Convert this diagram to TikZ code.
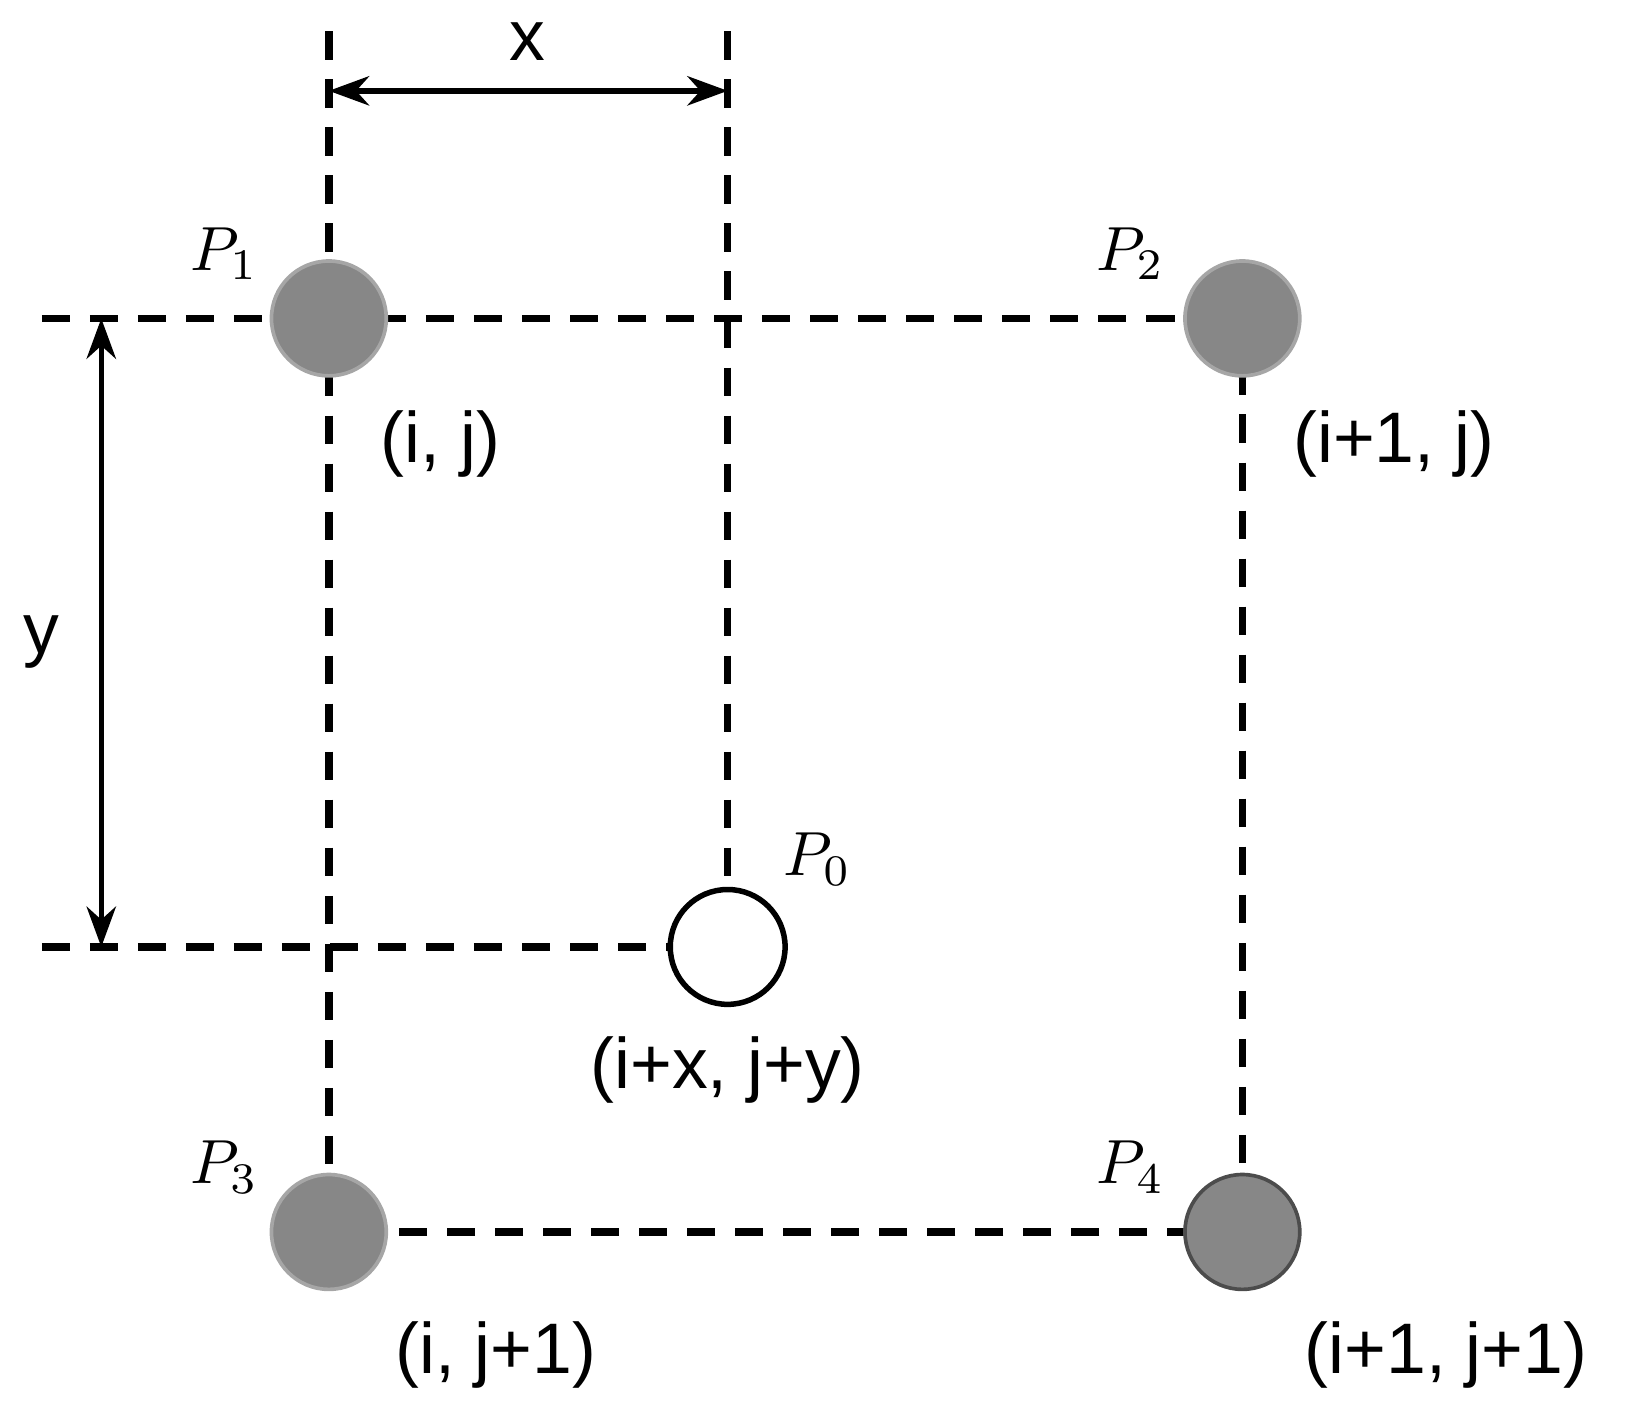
\documentclass[tikz,border=0pt]{standalone}
\usepackage{fontspec}
\setsansfont{Liberation Sans}
\usetikzlibrary{arrows.meta}
\begin{document}
\begin{tikzpicture}[x=0.02cm,y=-0.02cm,
 dashline/.style={line width=7*0.02cm, dash pattern=on 27*0.02cm off 19*0.02cm},
 fillpt/.style={circle, minimum size=110*0.02cm, inner sep=0, fill=black!47, draw=black!35, line width=2},
 openpt/.style={circle, minimum size=110*0.02cm, inner sep=0, fill=white, draw=black, line width=3},
 lab/.style={font=\sffamily\fontsize{39}{44}\selectfont, inner sep=0},
 plab/.style={inner sep=0, scale=3.4},
 dim/.style={line width=3, {Stealth[length=22pt,width=16pt]}-{Stealth[length=22pt,width=16pt]}}]
\useasboundingbox (0,0) rectangle (1568,1360);
\coordinate (t1) at (315,30); \coordinate (t0) at (697,30);
\coordinate (l1) at (40,305); \coordinate (l0) at (40,907);
\coordinate (p1) at (315,305); \coordinate (p3) at (315,1180);
\coordinate (p2) at (1190,305); \coordinate (p4) at (1190,1180);
\coordinate (p0) at (697,907);
\draw[dashline] (t1) -- (p3);
\draw[dashline] (t0) -- (p0);
\draw[dashline] (l1) -- (p2) -- (p4) -- (p3);
\draw[dashline] (l0) -- (p0);
\node[fillpt] (P1) at (p1) {};
\node[fillpt] (P2) at (p2) {};
\node[fillpt] (P3) at (p3) {};
\node[fillpt, draw=black!70] (P4) at (p4) {};
\node[openpt] (P0) at (p0) {};
\coordinate (ax1) at (315,87); \coordinate (ax2) at (697,87);
\draw[dim] (ax1) -- (ax2);
\coordinate (ay1) at (97,305); \coordinate (ay2) at (97,907);
\draw[dim] (ay1) -- (ay2);
\node[lab] (xl) at (505,40) {x};
\node[lab] (yl) at (40,615) {y};
\node[plab] (L1) at (215,243) {$P_1$};
\node[plab] (L2) at (1083,243) {$P_2$};
\node[plab] (L3) at (215,1118) {$P_3$};
\node[plab] (L4) at (1083,1118) {$P_4$};
\node[plab] (L0) at (783,823) {$P_0$};
\node[lab] (c1) at (422,425) {(i, j)};
\node[lab] (c2) at (1335,425) {(i+1, j)};
\node[lab] (c3) at (475,1298) {(i, j+1)};
\node[lab] (c4) at (1385,1298) {(i+1, j+1)};
\node[lab] (c0) at (697,1025) {(i+x, j+y)};
\end{tikzpicture}
\end{document}
